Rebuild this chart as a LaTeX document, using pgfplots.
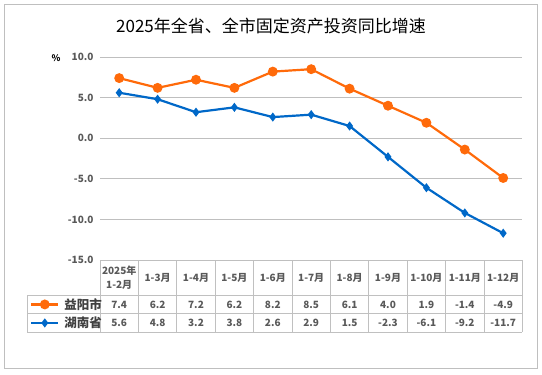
\documentclass[border=0pt]{standalone}
\usepackage{pgfplots}
\pgfplotsset{compat=1.18}
\usepackage{pgfplotstable}
\usepackage{fontspec}
\setmainfont{Noto Sans CJK SC}
\definecolor{yyorange}{HTML}{FF6A0A}
\definecolor{hnblue}{HTML}{0068C8}
\definecolor{gridgray}{HTML}{BFBFBF}
\definecolor{txtgray}{HTML}{595959}
\definecolor{tblgray}{HTML}{C0C0C0}

\pgfplotstableread{
x yiyang hunan
0 7.4 5.6
1 6.2 4.8
2 7.2 3.2
3 6.2 3.8
4 8.2 2.6
5 8.5 2.9
6 6.1 1.5
7 4.0 -2.3
8 1.9 -6.1
9 -1.4 -9.2
10 -4.9 -11.7
}\datatable

\begin{document}
\begin{tikzpicture}
\path[use as bounding box] (0pt,0pt) rectangle (542pt,375pt);
\draw[gridgray, line width=0.8pt] (4pt,7pt) rectangle (537pt,371pt);
\node[font=\fontsize{17}{20}\selectfont] at (271pt,349pt) {2025年全省、全市固定资产投资同比增速};
\node[font=\fontsize{9}{10}\selectfont\bfseries] at (56pt,317pt) {\%};
% table grid
\begin{scope}[tblgray, line width=0.8pt]
\foreach \k in {0,...,11} {
  \draw (100pt+\k*38.4pt,43pt) -- (100pt+\k*38.4pt,115pt);
}
\draw (27pt,43pt) -- (27pt,80pt);
\draw (100pt,115pt) -- (522.4pt,115pt);
\draw (27pt,80pt) -- (522.4pt,80pt);
\draw (27pt,61.5pt) -- (522.4pt,61.5pt);
\draw (27pt,43pt) -- (522.4pt,43pt);
\end{scope}
\begin{axis}[
  at={(100pt,115pt)}, anchor=south west,
  scale only axis, width=422.4pt, height=203pt,
  xmin=-0.5, xmax=10.5, ymin=-15, ymax=10,
  ytick={-15,-10,...,10},
  xtick={0,...,10},
  xticklabels={{2025年\\1-2月},1-3月,1-4月,1-5月,1-6月,1-7月,1-8月,1-9月,1-10月,1-11月,1-12月},
  xticklabel style={align=center, anchor=center, yshift=-17.5pt, text=txtgray,
    font=\fontsize{10}{13.5}\selectfont\bfseries},
  yticklabel style={text=txtgray, xshift=-3pt, font=\fontsize{10}{12}\selectfont\bfseries,
    /pgf/number format/.cd, fixed, zerofill, precision=1, assume math mode=true},
  axis line style={draw=none},
  tick style={draw=none},
  ymajorgrids, grid style={gridgray, line width=0.8pt},
  clip=false,
  legend style={at={(axis description cs:-0.1728,-0.1724)}, anchor=north west,
    draw=none, fill=none, inner sep=0pt, inner xsep=3pt, row sep=0pt,
    nodes={inner sep=0pt, minimum height=18.5pt, text=black!75,
      font=\fontsize{12.5}{14}\selectfont\bfseries},
    /tikz/every odd column/.append style={column sep=5pt}},
  legend cell align=left,
  legend image code/.code={\draw[mark repeat=2,mark phase=2] plot coordinates {(0pt,0pt)(13.5pt,0pt)(27pt,0pt)};},
]
\addplot[yyorange, line width=2.2pt, mark=*, mark size=3.8pt, mark options={solid}] table[x=x,y=yiyang]{\datatable};
\addlegendentry{益阳市}
\addplot[hnblue, line width=2.2pt, mark=diamond*, mark size=2.8pt, mark options={solid}] table[x=x,y=hunan]{\datatable};
\addlegendentry{湖南省}
\addplot[draw=none, mark=none, forget plot, nodes near coords, point meta=explicit,
  nodes near coords style={anchor=center, text=txtgray, font=\fontsize{10}{12}\selectfont\bfseries,
    /pgf/number format/.cd, fixed, zerofill, precision=1, assume math mode=true}]
  table[x=x, y expr=-20.48, meta=yiyang]{\datatable};
\addplot[draw=none, mark=none, forget plot, nodes near coords, point meta=explicit,
  nodes near coords style={anchor=center, text=txtgray, font=\fontsize{10}{12}\selectfont\bfseries,
    /pgf/number format/.cd, fixed, zerofill, precision=1, assume math mode=true}]
  table[x=x, y expr=-22.76, meta=hunan]{\datatable};
\end{axis}
\end{tikzpicture}
\end{document}
